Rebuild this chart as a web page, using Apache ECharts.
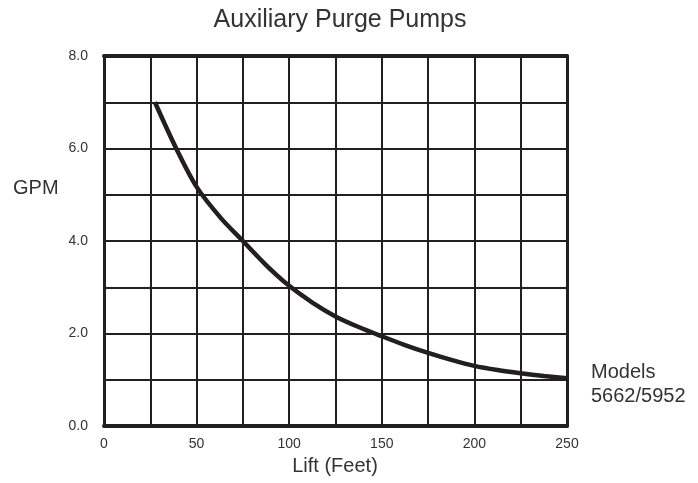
<!DOCTYPE html>
<html><head><meta charset="utf-8">
<script src="https://cdn.jsdelivr.net/npm/echarts@6/dist/echarts.min.js"></script>
<style>html,body{margin:0;padding:0;background:#fff}#c{width:698px;height:483px}</style>
</head><body><div id="c"></div>
<script>
const lift = [27.5, 39, 50, 63, 75, 87.5, 100, 112.5, 125, 137.5, 150, 162.5, 175, 187.5, 200, 212.5, 225, 237.5, 250];
const gpm  = [7.0, 6.0, 5.17, 4.5, 4.0, 3.48, 3.03, 2.67, 2.37, 2.14, 1.94, 1.75, 1.58, 1.43, 1.30, 1.21, 1.14, 1.08, 1.03];
const xTicks = [0, 50, 100, 150, 200, 250];
const yTicks = [0, 2, 4, 6, 8];
const title = 'Auxiliary Purge Pumps';
const xName = 'Lift (Feet)';
const yName = 'GPM';
const seriesLabel = 'Models\n5662/5952';

const ink = '#231f20';
const font = 'Liberation Sans, Arial, Helvetica, sans-serif';
const chart = echarts.init(document.getElementById('c'));
const data = lift.map((x, i) => [x, gpm[i]]);
chart.setOption({
  animation: false,
  title: { text: title, left: 335, top: 3, textAlign: 'center',
    textStyle: { fontFamily: font, fontSize: 25, fontWeight: 'normal', color: '#333' } },
  grid: { left: 104, right: 131, top: 56, bottom: 57 },
  graphic: [
    { type: 'text', left: 13, top: 178, style: { text: yName, font: '20px ' + font, fill: '#333' } },
    { type: 'text', left: 591, top: 360, style: { text: seriesLabel, font: '20px ' + font, fill: '#333', lineHeight: 24 } },
    { type: 'text', x: 335, y: 466, style: { text: xName, font: '20px ' + font, fill: '#333', align: 'center', verticalAlign: 'middle' } }
  ],
  xAxis: [{
    type: 'value', min: 0, max: 250, interval: 25, position: 'bottom',
    axisLine: { show: true, lineStyle: { color: ink, width: 4 } },
    axisTick: { show: false },
    splitLine: { show: true, lineStyle: { color: ink, width: 2 } },
    axisLabel: { margin: 11, fontFamily: font, fontSize: 14, color: '#333',
      formatter: v => xTicks.includes(v) ? String(v) : '' }
  }, {
    type: 'value', min: 0, max: 250, position: 'top',
    axisLine: { show: true, onZero: false, lineStyle: { color: ink, width: 4 } },
    axisTick: { show: false }, axisLabel: { show: false }, splitLine: { show: false }
  }],
  yAxis: [{
    type: 'value', min: 0, max: 8, interval: 1, position: 'left',
    axisLine: { show: true, lineStyle: { color: ink, width: 3 } },
    axisTick: { show: false },
    splitLine: { show: true, lineStyle: { color: ink, width: 2 } },
    axisLabel: { margin: 16, fontFamily: font, fontSize: 14, color: '#333',
      formatter: v => yTicks.includes(v) ? v.toFixed(1) : '' }
  }, {
    type: 'value', min: 0, max: 8, position: 'right',
    axisLine: { show: true, onZero: false, lineStyle: { color: ink, width: 3 } },
    axisTick: { show: false }, axisLabel: { show: false }, splitLine: { show: false }
  }],
  series: [{
    type: 'line', data: data, smooth: 0.3, showSymbol: false, z: 5,
    lineStyle: { color: ink, width: 4.5 }
  }]
});
</script></body></html>
